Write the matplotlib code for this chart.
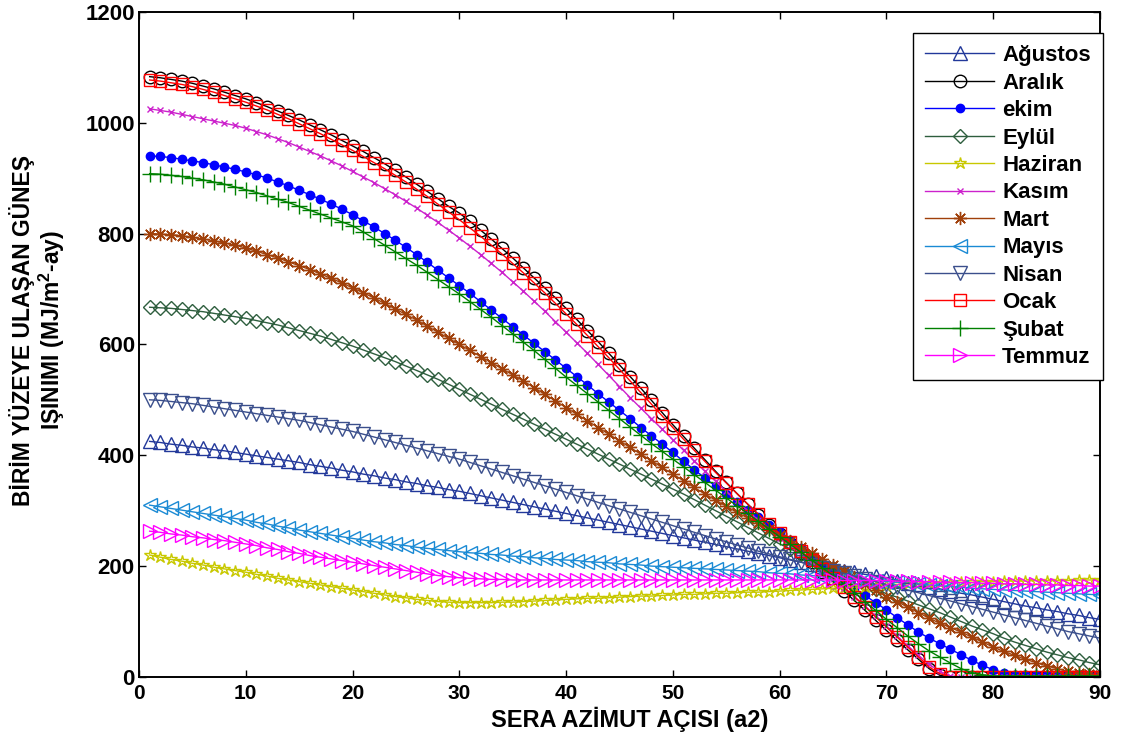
import numpy as np
import matplotlib
matplotlib.use('Agg')
import matplotlib.pyplot as plt

plt.rcParams['font.family'] = ['Liberation Sans', 'DejaVu Sans']
plt.rcParams['font.weight'] = 'bold'
plt.rcParams['mathtext.fontset'] = 'custom'
plt.rcParams['mathtext.rm'] = 'Liberation Sans:bold'
plt.rcParams['mathtext.default'] = 'rm'

# azimut angle 1..90
aci = np.arange(1, 91)

# values (MJ/m2-ay)
agustos = [425, 423, 420, 418, 415, 413, 410, 408, 405, 402,
           399, 396, 393, 390, 387, 383, 380, 377, 373, 370,
           366, 363, 359, 356, 352, 349, 345, 342, 338, 335,
           331, 327, 323, 319, 315, 311, 307, 303, 299, 295,
           291, 287, 283, 279, 275, 271, 267, 263, 259, 255,
           251, 247, 243, 239, 235, 231, 227, 223, 219, 215,
           211, 207, 203, 200, 196, 192, 189, 185, 182, 178,
           174, 170, 167, 163, 159, 155, 151, 148, 144, 140,
           136, 132, 128, 125, 121, 118, 114, 111, 107, 104]
aralik = [1083, 1081, 1078, 1075, 1071, 1066, 1061, 1055, 1049, 1043,
          1036, 1029, 1021, 1013, 1005, 996, 987, 978, 968, 958,
          948, 937, 926, 914, 902, 889, 876, 863, 849, 837,
          822, 806, 790, 773, 756, 738, 720, 702, 684, 665,
          645, 625, 605, 584, 563, 542, 521, 499, 477, 455,
          434, 413, 392, 371, 351, 331, 312, 293, 275, 258,
          241, 224, 207, 190, 172, 155, 138, 120, 102, 84,
          66, 49, 32, 15, 3, 0, 0, 0, 0, 0,
          0, 0, 0, 0, 0, 0, 0, 0, 0, 0]
ekim = [940, 939, 937, 934, 931, 928, 924, 920, 916, 911,
        906, 900, 893, 886, 878, 870, 862, 853, 844, 834,
        823, 812, 800, 788, 775, 762, 748, 734, 720, 706,
        692, 677, 662, 647, 632, 617, 602, 587, 572, 557,
        542, 527, 511, 496, 481, 466, 450, 435, 420, 405,
        389, 374, 359, 344, 330, 316, 302, 288, 275, 262,
        248, 233, 218, 203, 188, 174, 160, 147, 134, 121,
        107, 94, 81, 70, 60, 50, 40, 30, 21, 13,
        7, 4, 3, 3, 3, 3, 3, 3, 3, 3]
eylul = [667, 666, 665, 663, 661, 659, 656, 653, 650, 647,
         643, 639, 635, 630, 625, 620, 615, 609, 603, 597,
         590, 583, 576, 569, 561, 553, 545, 537, 528, 519,
         510, 501, 492, 483, 474, 465, 456, 447, 438, 429,
         420, 411, 402, 393, 384, 375, 366, 357, 348, 339,
         330, 320, 310, 300, 290, 280, 270, 260, 250, 240,
         231, 222, 213, 204, 195, 186, 177, 168, 159, 150,
         144, 137, 130, 123, 116, 108, 100, 92, 85, 78,
         70, 63, 57, 51, 45, 40, 35, 31, 26, 22]
haziran = [220, 216, 212, 209, 205, 202, 198, 195, 192, 189,
           185, 182, 178, 175, 172, 169, 166, 163, 160, 157,
           154, 151, 148, 145, 143, 140, 138, 136, 135, 134,
           134, 134, 134, 135, 135, 136, 137, 138, 139, 140,
           141, 142, 142, 143, 144, 145, 146, 146, 147, 148,
           149, 149, 150, 151, 151, 152, 153, 153, 154, 155,
           156, 157, 158, 159, 160, 161, 162, 163, 164, 166,
           167, 168, 168, 169, 170, 170, 171, 171, 172, 172,
           173, 173, 173, 174, 174, 174, 174, 175, 175, 175]
kasim = [1025, 1022, 1019, 1015, 1011, 1007, 1003, 999, 995, 990,
         984, 978, 971, 964, 956, 948, 940, 931, 922, 912,
         902, 892, 881, 870, 858, 846, 833, 820, 806, 792,
         777, 762, 746, 730, 713, 696, 678, 660, 641, 622,
         603, 584, 564, 544, 524, 504, 485, 466, 447, 428,
         409, 390, 371, 353, 335, 317, 300, 283, 267, 251,
         236, 221, 206, 191, 176, 161, 145, 128, 110, 92,
         74, 56, 39, 23, 10, 2, 0, 0, 0, 0,
         0, 0, 0, 0, 0, 0, 0, 0, 0, 0]
mart = [800, 799, 798, 796, 793, 790, 787, 783, 779, 774,
        768, 762, 756, 749, 742, 735, 727, 719, 711, 702,
        693, 684, 674, 664, 654, 644, 633, 622, 611, 600,
        589, 578, 567, 556, 545, 534, 522, 510, 498, 486,
        474, 462, 450, 438, 426, 414, 402, 390, 378, 366,
        354, 342, 330, 319, 308, 297, 287, 277, 267, 257,
        246, 235, 224, 213, 202, 191, 180, 168, 156, 145,
        136, 126, 116, 106, 97, 89, 81, 72, 63, 54,
        46, 39, 32, 26, 20, 15, 10, 7, 5, 4]
mayis = [310, 307, 304, 301, 298, 295, 292, 289, 286, 283,
         279, 276, 272, 269, 265, 262, 259, 256, 253, 250,
         247, 244, 242, 239, 237, 234, 232, 230, 228, 226,
         224, 223, 221, 220, 218, 217, 215, 214, 212, 211,
         210, 208, 207, 206, 204, 203, 202, 200, 199, 198,
         197, 196, 195, 194, 193, 192, 191, 190, 188, 187,
         186, 184, 183, 181, 180, 178, 177, 175, 174, 172,
         171, 169, 168, 166, 165, 163, 162, 160, 159, 158,
         157, 156, 155, 154, 153, 152, 151, 150, 149, 148]
nisan = [500, 499, 497, 495, 493, 490, 487, 484, 481, 478,
         475, 472, 469, 466, 463, 459, 455, 451, 447, 443,
         438, 433, 428, 423, 418, 413, 408, 403, 398, 393,
         387, 381, 375, 369, 363, 357, 351, 345, 339, 333,
         327, 321, 315, 309, 303, 297, 291, 285, 279, 273,
         267, 261, 255, 249, 244, 238, 233, 227, 222, 217,
         212, 207, 202, 197, 192, 187, 182, 177, 172, 167,
         162, 157, 152, 147, 142, 137, 132, 127, 122, 117,
         112, 107, 102, 97, 92, 87, 82, 78, 74, 70]
ocak = [1077, 1075, 1072, 1069, 1065, 1060, 1055, 1049, 1043, 1037,
        1030, 1023, 1015, 1007, 998, 989, 980, 970, 960, 950,
        939, 928, 917, 905, 893, 880, 867, 853, 839, 825,
        810, 795, 779, 763, 746, 729, 711, 693, 674, 655,
        636, 616, 596, 576, 555, 534, 513, 492, 471, 450,
        429, 409, 389, 369, 350, 331, 312, 294, 276, 259,
        243, 227, 211, 195, 179, 162, 145, 127, 108, 90,
        72, 54, 36, 18, 6, 0, 0, 0, 0, 0,
        0, 0, 0, 0, 0, 0, 0, 0, 0, 0]
subat = [908, 907, 905, 903, 900, 897, 893, 889, 884, 879,
         874, 868, 862, 856, 849, 842, 835, 828, 821, 814,
         803, 791, 779, 767, 755, 743, 730, 717, 704, 691,
         677, 663, 649, 634, 619, 604, 589, 573, 557, 541,
         526, 511, 496, 481, 466, 451, 436, 421, 407, 393,
         379, 365, 351, 337, 323, 309, 295, 281, 267, 253,
         239, 225, 211, 197, 183, 168, 152, 136, 120, 104,
         89, 74, 60, 47, 36, 25, 15, 8, 4, 2,
         2, 2, 2, 2, 2, 2, 2, 2, 2, 2]
temmuz = [263, 261, 258, 256, 253, 251, 248, 246, 243, 240,
          237, 233, 230, 226, 223, 219, 216, 213, 210, 207,
          204, 201, 198, 195, 192, 189, 186, 183, 181, 179,
          178, 177, 176, 176, 175, 175, 175, 175, 175, 175,
          175, 175, 175, 175, 175, 175, 175, 175, 175, 175,
          175, 175, 175, 175, 175, 175, 175, 175, 175, 175,
          175, 175, 175, 175, 175, 174, 174, 174, 174, 174,
          173, 173, 172, 172, 171, 171, 170, 170, 169, 169,
          168, 168, 167, 167, 166, 166, 165, 165, 164, 164]

aylar = ['Ağustos', 'Aralık', 'ekim', 'Eylül', 'Haziran', 'Kasım',
         'Mart', 'Mayıs', 'Nisan', 'Ocak', 'Şubat', 'Temmuz']
seriler = [agustos, aralik, ekim, eylul, haziran, kasim,
           mart, mayis, nisan, ocak, subat, temmuz]

# (color, marker, size, filled)
stiller = [('#22389a', '^', 9.5, False),
           ('#000000', 'o', 9, False),
           ('#0000ff', 'o', 6, True),
           ('#2e5e3e', 'D', 7.5, False),
           ('#c8c800', '*', 9, False),
           ('#cc22cc', 'x', 5, False),
           ('#a0400a', (8, 2, 0), 9.5, False),
           ('#1a8ad4', '<', 9.5, False),
           ('#3b4f8c', 'v', 9.5, False),
           ('#ff0000', 's', 8.5, False),
           ('#008000', '+', 11, False),
           ('#ff00ff', '>', 9.5, False)]

fig = plt.figure(figsize=(11.27, 7.38), dpi=100)
ax = fig.add_axes([0.1233, 0.0827, 0.8527, 0.9013])

for ad, y, (renk, mk, ms, dolu) in zip(aylar, seriler, stiller):
    ax.plot(aci, y, color=renk, marker=mk, markersize=ms, linewidth=1,
            markeredgewidth=1, markeredgecolor=renk,
            markerfacecolor=renk if dolu else 'none', label=ad)

ax.set_xlim(0, 90)
ax.set_ylim(0, 1200)
ax.set_xticks(range(0, 91, 10))
ax.set_yticks(range(0, 1201, 200))
ax.tick_params(direction='in', top=True, right=True, length=5, width=1)
ax.tick_params(axis='x', labelsize=15, pad=5)
ax.tick_params(axis='y', labelsize=16, pad=3)
for lab in ax.get_xticklabels() + ax.get_yticklabels():
    lab.set_fontweight('bold')
for sp in ax.spines.values():
    sp.set_linewidth(1.4)

ax.set_xlabel('SERA AZİMUT AÇISI (a2)', fontsize=17, fontweight='bold')
ax.xaxis.set_label_coords(0.511, -0.045)

fig.text(38 / 1127, 1 - 330 / 738,
         'BİRİM YÜZEYE ULAŞAN GÜNEŞ\nIŞINIMI (MJ/m$^2$-ay)',
         rotation=90, ha='center', va='center', fontsize=16.5,
         fontweight='bold', linespacing=1.1, multialignment='center')

leg = ax.legend(loc='upper right', bbox_to_anchor=(1103 / 1127, 1 - 33 / 738),
                bbox_transform=fig.transFigure, borderaxespad=0,
                fancybox=False, edgecolor='black', framealpha=1,
                prop={'size': 16, 'weight': 'bold'}, numpoints=1,
                handlelength=3.1, labelspacing=0.29, borderpad=0.55,
                handletextpad=0.35)
leg.get_frame().set_linewidth(1)

fig.savefig('out.png', dpi=100)
